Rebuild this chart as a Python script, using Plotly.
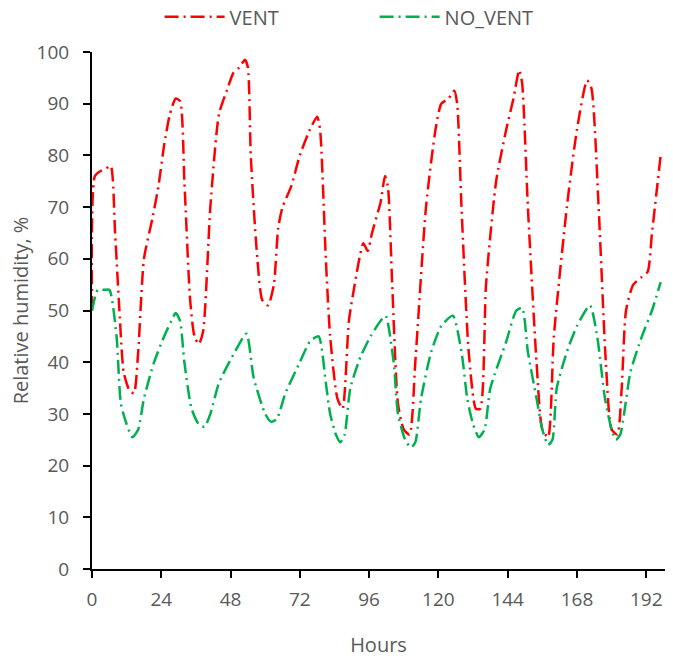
import plotly.graph_objects as go

# VENT series (hours, relative humidity %)
vent_t = [0, 1, 3, 5, 6.5, 8, 9.5, 11, 13, 14.5, 16, 18, 21, 23, 25, 27, 29, 30.5, 32, 34, 35.5, 37, 38.5, 41, 44, 47, 49, 51, 53, 54, 55, 57, 59, 61, 63, 64.5, 66, 69, 72, 75.5, 78, 79, 81, 82.5, 85, 86.8, 89, 91, 94, 95.5, 97, 100, 101.5, 102.5, 104, 106, 108, 110, 112, 115.7, 119, 121, 123.5, 125.5, 126.5, 128, 130.5, 133, 134.5, 136.5, 140, 143.5, 146, 148, 149, 151, 154, 156, 158, 160, 164.5, 168, 171.5, 173, 175.5, 178, 180, 182, 183.5, 185, 187.5, 190.5, 192.5, 194, 197]
vent_rh = [50, 76, 77, 77.5, 78, 65, 50, 38, 34.5, 34, 42, 60, 68, 74, 82, 88, 91, 90.5, 75, 52, 45, 43.5, 46, 70, 88, 93, 96, 97, 98.5, 97, 80, 62, 52, 51, 55, 66, 70, 74, 80, 85, 87.5, 85, 60, 45, 33, 31, 48, 55, 63, 61.5, 65, 71, 76, 74, 55, 32, 27, 26, 40, 70, 85, 90, 91, 92.5, 90, 70, 42, 31, 31, 55, 75, 85, 91, 96.5, 94, 70, 40, 27, 25.5, 45, 70, 85, 94.5, 93, 70, 40, 27, 26, 35, 50, 55, 56.5, 57.5, 65, 80]

# NO_VENT series
novent_t = [0, 2, 4, 6, 8.5, 10, 12, 14, 16, 18, 21.5, 25, 27.5, 29, 30.5, 32, 34.5, 37, 39, 41, 44, 49.5, 53.5, 56, 60, 62, 64, 67, 72, 75.5, 78.5, 81, 82.5, 84.5, 86, 87.5, 89.5, 93, 96.5, 100, 101.7, 104.5, 106, 108.5, 110.5, 112, 114, 117.5, 121, 125, 128, 130, 132, 134, 136, 138, 143.5, 147, 149, 151, 154, 156, 158, 159.5, 161, 164.5, 168, 172.5, 175, 177.7, 180, 181.5, 183, 186.5, 190.5, 194, 197]
novent_rh = [50, 54, 54, 54, 45, 32, 28, 25.5, 27, 33, 40, 45, 48, 49.5, 48, 40, 31, 28, 27.5, 30, 36, 42, 45.5, 37, 30, 28.5, 29, 34, 40, 44, 45, 36, 30, 26, 24.5, 26, 35, 41, 45, 48, 49, 40, 30, 25, 23.5, 24.5, 33, 42, 47, 49, 42, 33, 28, 25.5, 27, 35, 44, 50, 50.5, 42, 33, 27, 24, 25, 35, 42, 47, 51, 45, 33, 27, 25, 26, 38, 45, 50, 55.5]

x_ticks = [0, 24, 48, 72, 96, 120, 144, 168, 192]
y_ticks = [0, 10, 20, 30, 40, 50, 60, 70, 80, 90, 100]

font_family = "Open Sans, Liberation Sans, sans-serif"
grey = "#595959"
dash = "14px,5px,2px,5px"

fig = go.Figure()
fig.add_trace(go.Scatter(x=vent_t, y=vent_rh, mode="lines", name="VENT",
                         line=dict(color="#FF0000", width=2.5, dash=dash, shape="spline", smoothing=0.6)))
fig.add_trace(go.Scatter(x=novent_t, y=novent_rh, mode="lines", name="NO_VENT",
                         line=dict(color="#00B050", width=2.5, dash=dash, shape="spline", smoothing=0.6)))

fig.update_layout(
    width=673, height=658,
    margin=dict(l=92, r=8, t=52, b=89, autoexpand=False),
    paper_bgcolor="white", plot_bgcolor="white",
    font=dict(family=font_family, size=19, color=grey),
    legend=dict(orientation="h", yanchor="middle", y=1.068, xanchor="left", x=0.118,
                font=dict(size=20, color=grey), bgcolor="rgba(0,0,0,0)",
                itemwidth=60, entrywidth=140, entrywidthmode="pixels", traceorder="normal"),
    xaxis=dict(range=[0, 198.5], tickvals=x_ticks, ticktext=[str(v) for v in x_ticks],
               showgrid=False, zeroline=False, showline=True, linecolor="black", linewidth=2,
               ticks="outside", tickcolor="black", tickwidth=2, ticklen=7, automargin=False,
               ticklabelstandoff=5,
               title=dict(text="Hours", font=dict(size=20, color=grey), standoff=30)),
    yaxis=dict(range=[0, 100], tickvals=y_ticks, ticktext=[str(v) for v in y_ticks],
               showgrid=False, zeroline=False, showline=True, linecolor="black", linewidth=2,
               ticks="outside", tickcolor="black", tickwidth=2, ticklen=7, automargin=False,
               ticklabelstandoff=10,
               title=dict(text="Relative humidity, %", font=dict(size=20, color=grey), standoff=3)),
)

fig.write_html("out.html", config={"displayModeBar": False},
               post_script="document.body.style.margin='0';")
